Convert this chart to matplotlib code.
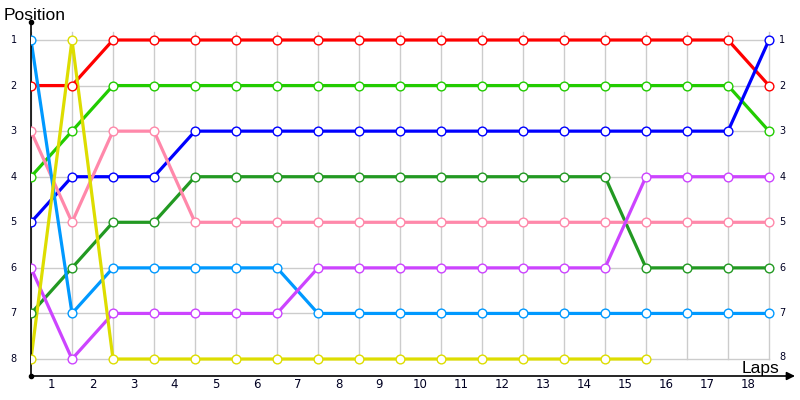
import matplotlib.pyplot as plt

laps = list(range(19))
red = [2, 2, 1, 1, 1, 1, 1, 1, 1, 1, 1, 1, 1, 1, 1, 1, 1, 1, 2]
green = [4, 3, 2, 2, 2, 2, 2, 2, 2, 2, 2, 2, 2, 2, 2, 2, 2, 2, 3]
blue = [5, 4, 4, 4, 3, 3, 3, 3, 3, 3, 3, 3, 3, 3, 3, 3, 3, 3, 1]
dkgreen = [7, 6, 5, 5, 4, 4, 4, 4, 4, 4, 4, 4, 4, 4, 4, 6, 6, 6, 6]
pink = [3, 5, 3, 3, 5, 5, 5, 5, 5, 5, 5, 5, 5, 5, 5, 5, 5, 5, 5]
ltblue = [1, 7, 6, 6, 6, 6, 6, 7, 7, 7, 7, 7, 7, 7, 7, 7, 7, 7, 7]
purple = [6, 8, 7, 7, 7, 7, 7, 6, 6, 6, 6, 6, 6, 6, 6, 4, 4, 4, 4]
yellow = [8, 1, 8, 8, 8, 8, 8, 8, 8, 8, 8, 8, 8, 8, 8, 8]

series = [(red, '#ff0000'), (green, '#22cc00'), (blue, '#0000ff'),
          (dkgreen, '#229922'), (pink, '#ff88aa'), (ltblue, '#0099ff'),
          (purple, '#cc44ff'), (yellow, '#dddd00')]

fig = plt.figure(figsize=(8, 4), dpi=100)
ax = fig.add_axes([31/800, 24/400, 764/800, 354/400])
ax.set_xlim(0, 764/41)
ax.set_ylim(8 + 17/45.6, 1 - 18/45.6)

# grid
for k in laps:
    ax.plot([k, k], [8, 1 - 8/45.6], color='#cccccc', lw=1, zorder=0)
for p in range(1, 9):
    ax.plot([0, 18], [p, p], color='#cccccc', lw=1, zorder=0)

for vals, c in series:
    ax.plot(laps[:len(vals)], vals, color=c, lw=2.3, zorder=2)
for vals, c in series:
    ax.plot(laps[:len(vals)], vals, ls='none', marker='o', ms=6.3,
            mfc='white', mec=c, mew=1.0, zorder=3)

for s in ['top', 'right', 'left', 'bottom']:
    ax.spines[s].set_visible(False)
ax.set_xticks([])
ax.set_yticks([])

# axes with arrows
ax.annotate('', xy=(764/41, ax.get_ylim()[0]), xytext=(0, ax.get_ylim()[0]),
            arrowprops=dict(arrowstyle='-|>', color='black', lw=1.2,
                            mutation_scale=12, shrinkA=0, shrinkB=0),
            annotation_clip=False)
ax.plot([0, 0], [ax.get_ylim()[0], ax.get_ylim()[1]], color='black', lw=1.2,
        clip_on=False)
ax.plot([0, 0], [ax.get_ylim()[0], ax.get_ylim()[1]], ls='none', marker='o',
        ms=3, color='black', clip_on=False)

for i in range(1, 19):
    ax.text(i - 0.5, 8.57, str(i), ha='center', va='center', fontsize=8.5,
            color='#000022', clip_on=False)
for p in range(1, 9):
    ax.text(-0.42, p, str(p), ha='center', va='center', fontsize=7,
            color='#000022', clip_on=False)
    ax.text(18.25, p - (0.04 if p == 8 else 0), str(p), ha='left',
            va='center', fontsize=7, color='#000022', clip_on=False)

fig.text(4/800, 1 - 15/400, 'Position', fontsize=12.5, va='center',
         ha='left', family='Liberation Sans')
fig.text(742/800, 1 - 368/400, 'Laps', fontsize=12.5, va='center',
         ha='left', family='Liberation Sans')

fig.savefig('out.png', dpi=100)
